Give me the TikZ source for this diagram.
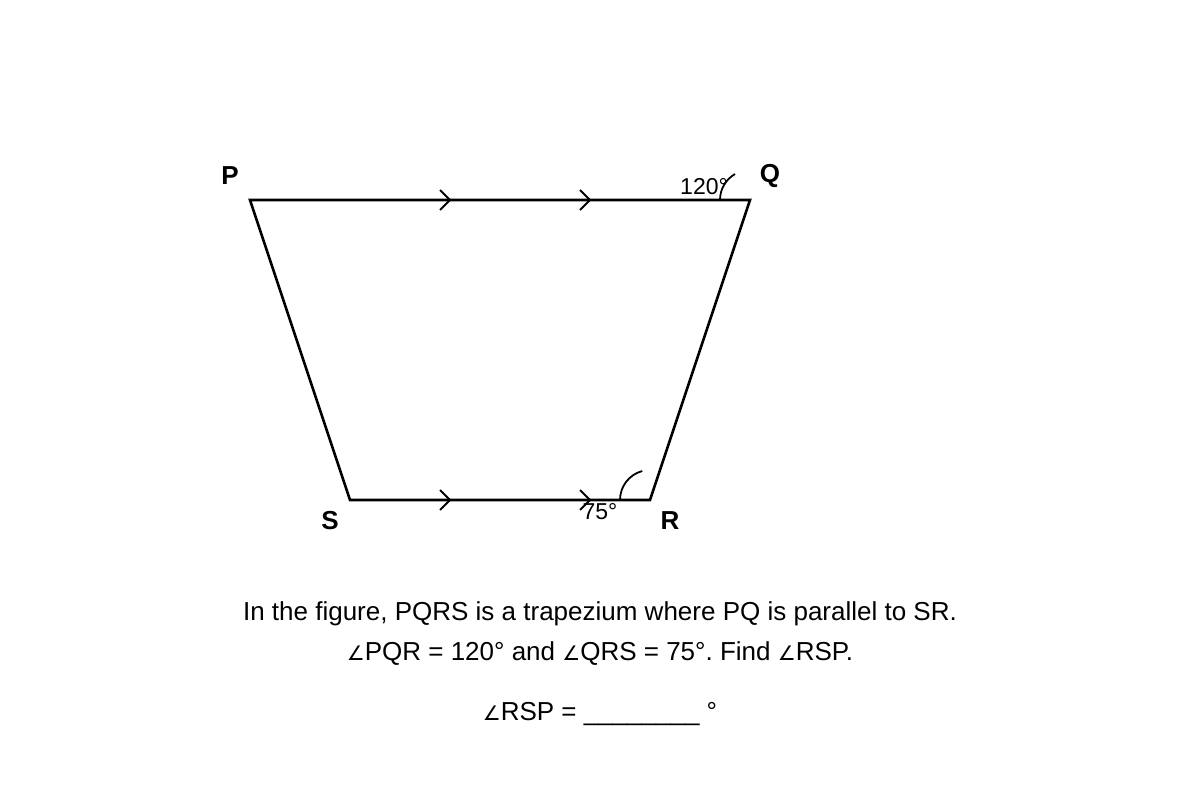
\documentclass[tikz,border=0pt]{standalone}
\usepackage{fontspec}
\setmainfont{Liberation Sans}
\newfontfamily\djv{DejaVu Sans}
\newcommand{\ang}{{\djv\fontsize{20}{20}\selectfont ∠}}
\frenchspacing
\begin{document}
\begin{tikzpicture}[x=1pt,y=-1pt,
  edge/.style={line width=2.6pt,line join=miter},
  tick/.style={line width=2pt},
  arcmark/.style={line width=1.8pt},
  vlabel/.style={font=\fontsize{26}{26}\selectfont\bfseries,inner sep=0pt},
  alabel/.style={font=\fontsize{23}{23}\selectfont,inner sep=0pt},
  txt/.style={font=\fontsize{26}{26}\selectfont,inner sep=0pt}]
\useasboundingbox (0,0) rectangle (1200,800);
\fill[white] (0,0) rectangle (1200,800);
\coordinate (P) at (250,200);
\coordinate (Q) at (750,200);
\coordinate (R) at (650,500);
\coordinate (S) at (350,500);
\draw[edge] (P) -- (Q) -- (R) -- (S) -- cycle;
% parallel marks
\foreach \x in {440,580}{
  \draw[tick] (\x,190) -- (\x+10,200) -- (\x,210);
  \draw[tick] (\x,490) -- (\x+10,500) -- (\x,510);
}
% angle arcs
\draw[arcmark] ([xshift=-30pt]Q) arc[start angle=180,end angle=240,radius=30];
\draw[arcmark] ([xshift=-30pt]R) arc[start angle=180,end angle=255,radius=30];
% vertex labels
\node[vlabel] (lP) at (230,176) {P};
\node[vlabel] (lQ) at (770,176) {Q};
\node[vlabel] (lS) at (330,521) {S};
\node[vlabel] (lR) at (670,521) {R};
\node[alabel] (a120) at (704,187) {120°};
\node[alabel] (a75) at (600,512) {75°};
% text
\node[txt] (t1) at (600,614) {In the figure, PQRS is a trapezium where PQ is parallel to SR.};
\node[txt] (t2) at (600,654) {\ang PQR = 120° and \ang QRS = 75°. Find \ang RSP.};
\node[txt] (t3) at (600,714) {\ang RSP = \_\_\_\_\_\_\_\_ °};
\end{tikzpicture}
\end{document}
